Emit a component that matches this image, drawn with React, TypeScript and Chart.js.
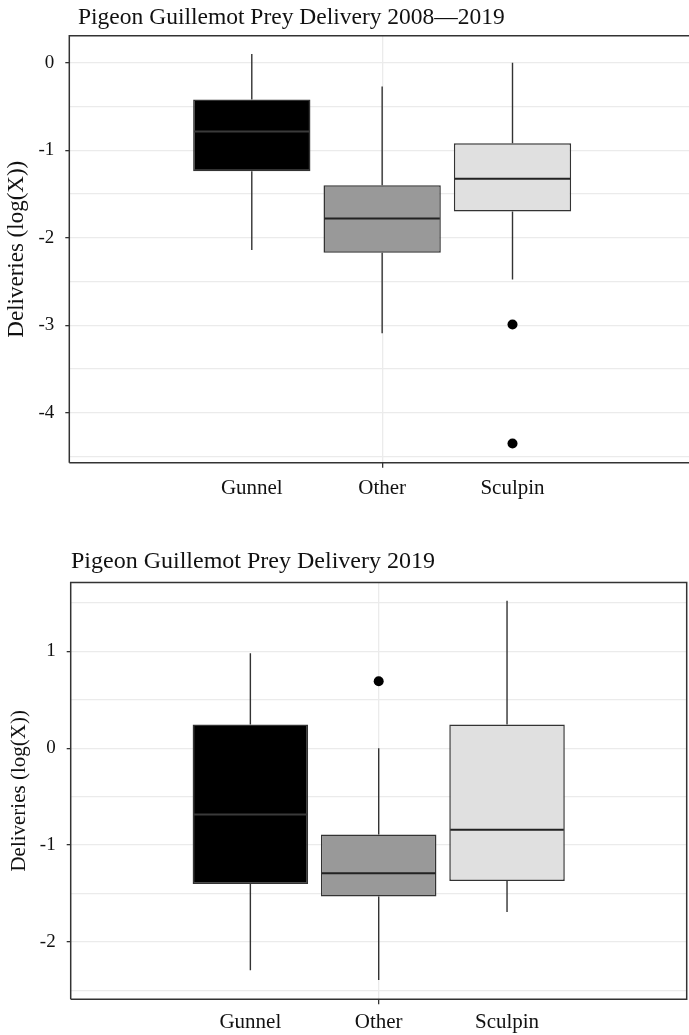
import React, { useEffect, useRef } from 'react';
import { Chart, registerables } from 'chart.js';

Chart.register(...registerables);

const CATEGORIES = ['Gunnel', 'Other', 'Sculpin'];
const BOX_COLORS = ['#000000', '#999999', '#e0e0e0'];
const MEDIAN_COLORS = ['#3a3a3a', '#222222', '#222222'];

// Panel 1: 2008—2019
const ALL_MIN = [-2.14, -3.09, -2.475];
const ALL_Q1 = [-1.24, -2.17, -1.7];
const ALL_MEDIAN = [-0.786, -1.78, -1.325];
const ALL_Q3 = [-0.42, -1.4, -0.92];
const ALL_MAX = [0.1, -0.27, 0.0];
const ALL_OUTLIER_CAT = [2, 2];
const ALL_OUTLIER_VAL = [-2.99, -4.35];
const ALL_Y_RANGE = [-4.57, 0.31];

// Panel 2: 2019
const Y19_MIN = [-2.29, -2.39, -1.69];
const Y19_Q1 = [-1.4, -1.53, -1.37];
const Y19_MEDIAN = [-0.685, -1.29, -0.84];
const Y19_Q3 = [0.245, -0.89, 0.245];
const Y19_MAX = [0.98, 0.0, 1.52];
const Y19_OUTLIER_CAT = [1];
const Y19_OUTLIER_VAL = [0.69];
const Y19_Y_RANGE = [-2.59, 1.71];

const X_RANGE = [-1.4, 3.4];
const Y_TITLE = 'Deliveries (log(X))';
const FONT = '"Liberation Serif", "Times New Roman", serif';

type Spec = {
  min: number[]; q1: number[]; median: number[]; q3: number[]; max: number[];
  outCat: number[]; outVal: number[]; yRange: number[];
  padTop: number; padRight: number; yWidth: number; xHeight: number;
  xPad: number; yTitleSize: number; yTitlePad: number;
};

function makeBoxPlugin(spec: Spec) {
  return {
    id: 'boxExtras',
    beforeDatasetsDraw(chart: any) {
      const { ctx, scales } = chart;
      const x = scales.x, y = scales.y;
      ctx.save();
      ctx.strokeStyle = '#333333';
      ctx.lineWidth = 1.4;
      CATEGORIES.forEach((_, i) => {
        const px = x.getPixelForValue(i);
        ctx.beginPath();
        ctx.moveTo(px, y.getPixelForValue(spec.q3[i]));
        ctx.lineTo(px, y.getPixelForValue(spec.max[i]));
        ctx.moveTo(px, y.getPixelForValue(spec.q1[i]));
        ctx.lineTo(px, y.getPixelForValue(spec.min[i]));
        ctx.stroke();
      });
      ctx.restore();
    },
    afterDatasetsDraw(chart: any) {
      const { ctx, scales } = chart;
      const y = scales.y;
      const meta = chart.getDatasetMeta(0);
      ctx.save();
      ctx.lineWidth = 2;
      meta.data.forEach((bar: any, i: number) => {
        const { x: bx, width } = bar.getProps(['x', 'width'], true);
        const py = y.getPixelForValue(spec.median[i]);
        ctx.strokeStyle = MEDIAN_COLORS[i];
        ctx.beginPath();
        ctx.moveTo(bx - width / 2 + 1, py);
        ctx.lineTo(bx + width / 2 - 1, py);
        ctx.stroke();
      });
      ctx.restore();
    },
    afterDraw(chart: any) {
      const { ctx, chartArea: a } = chart;
      ctx.save();
      ctx.strokeStyle = '#333333';
      ctx.lineWidth = 1.5;
      ctx.beginPath();
      ctx.moveTo(a.left, a.bottom);
      ctx.lineTo(a.left, a.top);
      ctx.lineTo(a.right, a.top);
      ctx.lineTo(a.right, a.bottom);
      ctx.lineTo(a.left, a.bottom);
      ctx.stroke();
      ctx.restore();
    },
  };
}

function buildConfig(spec: Spec): any {
  return {
    type: 'bar',
    data: {
      datasets: [
        {
          type: 'bar',
          data: CATEGORIES.map((_, i) => ({ x: i, y: [spec.q1[i], spec.q3[i]] })),
          backgroundColor: BOX_COLORS,
          borderColor: '#333333',
          borderWidth: 1.5,
          borderSkipped: false,
          categoryPercentage: 1,
          barPercentage: 0.9,
        },
        {
          type: 'scatter',
          data: spec.outCat.map((c, k) => ({ x: c, y: spec.outVal[k] })),
          backgroundColor: '#000000',
          borderColor: '#000000',
          borderWidth: 0,
          pointRadius: 5,
        },
      ],
    },
    options: {
      animation: false,
      responsive: false,
      maintainAspectRatio: false,
      events: [],
      layout: { padding: { top: spec.padTop, right: spec.padRight, left: 0, bottom: 0 } },
      plugins: { legend: { display: false }, tooltip: { enabled: false }, title: { display: false } },
      scales: {
        x: {
          type: 'linear',
          min: X_RANGE[0],
          max: X_RANGE[1],
          offset: false,
          afterBuildTicks: (s: any) => {
            s.ticks = CATEGORIES.map((_, i) => ({ value: i }));
          },
          afterFit: (s: any) => {
            s.height = spec.xHeight;
          },
          ticks: {
            callback: (v: number) => CATEGORIES[v] ?? '',
            color: '#111111',
            font: { family: FONT, size: 21 },
            padding: spec.xPad,
            maxRotation: 0,
            autoSkip: false,
          },
          grid: {
            offset: false,
            color: (c: any) => (c.tick && c.tick.value === 1 ? '#ebebeb' : 'rgba(0,0,0,0)'),
            lineWidth: 1.3,
            tickLength: 5,
            tickColor: (c: any) => (c.tick && c.tick.value === 1 ? '#333333' : 'rgba(0,0,0,0)'),
            tickWidth: 1.3,
          },
          border: { display: false },
        },
        y: {
          type: 'linear',
          min: spec.yRange[0],
          max: spec.yRange[1],
          afterFit: (s: any) => {
            s.width = spec.yWidth;
          },
          ticks: {
            stepSize: 0.5,
            includeBounds: false,
            callback: (v: number) => (Number.isInteger(v) ? String(v === 0 ? 0 : v) : ''),
            color: '#111111',
            font: { family: FONT, size: 19 },
            padding: 11,
          },
          grid: {
            color: '#ebebeb',
            lineWidth: 1.3,
            tickLength: 4,
            tickColor: (c: any) => (c.tick && Number.isInteger(c.tick.value) ? '#333333' : 'rgba(0,0,0,0)'),
            tickWidth: 1.3,
          },
          border: { display: false },
          title: {
            display: true,
            text: Y_TITLE,
            color: '#111111',
            font: { family: FONT, size: spec.yTitleSize },
            padding: { top: spec.yTitlePad, bottom: 0 },
          },
        },
      },
    },
    plugins: [makeBoxPlugin(spec)],
  };
}

const TOP_SPEC: Spec = {
  min: ALL_MIN, q1: ALL_Q1, median: ALL_MEDIAN, q3: ALL_Q3, max: ALL_MAX,
  outCat: ALL_OUTLIER_CAT, outVal: ALL_OUTLIER_VAL, yRange: ALL_Y_RANGE,
  padTop: 35.7, padRight: 5, yWidth: 69.3, xHeight: 57.3, xPad: 7.7,
  yTitleSize: 23, yTitlePad: 3.2,
};

const BOTTOM_SPEC: Spec = {
  min: Y19_MIN, q1: Y19_Q1, median: Y19_MEDIAN, q3: Y19_Q3, max: Y19_MAX,
  outCat: Y19_OUTLIER_CAT, outVal: Y19_OUTLIER_VAL, yRange: Y19_Y_RANGE,
  padTop: 19, padRight: 5.3, yWidth: 70.7, xHeight: 35.7, xPad: 5.1,
  yTitleSize: 21, yTitlePad: 6.4,
};

export default function App() {
  const topRef = useRef<HTMLCanvasElement | null>(null);
  const botRef = useRef<HTMLCanvasElement | null>(null);

  useEffect(() => {
    const charts: Chart[] = [];
    if (topRef.current) charts.push(new Chart(topRef.current, buildConfig(TOP_SPEC)));
    if (botRef.current) charts.push(new Chart(botRef.current, buildConfig(BOTTOM_SPEC)));
    return () => charts.forEach((c) => c.destroy());
  }, []);

  const titleStyle: React.CSSProperties = {
    position: 'absolute',
    fontFamily: FONT,
    lineHeight: '24px',
    whiteSpace: 'nowrap',
    color: '#111111',
  };

  return (
    <div
      style={{
        position: 'absolute',
        left: 0,
        top: 0,
        width: 689,
        height: 1035,
        overflow: 'hidden',
        background: '#ffffff',
      }}
    >
      <canvas
        ref={topRef}
        width={700}
        height={520}
        style={{ position: 'absolute', left: 0, top: 0, width: 700, height: 520 }}
      />
      <canvas
        ref={botRef}
        width={692}
        height={475}
        style={{ position: 'absolute', left: 0, top: 560, width: 692, height: 475 }}
      />
      <div style={{ ...titleStyle, fontSize: 23.5, left: 78, top: 4 }}>Pigeon Guillemot Prey Delivery 2008—2019</div>
      <div style={{ ...titleStyle, fontSize: 24, left: 71, top: 548 }}>Pigeon Guillemot Prey Delivery 2019</div>
    </div>
  );
}
